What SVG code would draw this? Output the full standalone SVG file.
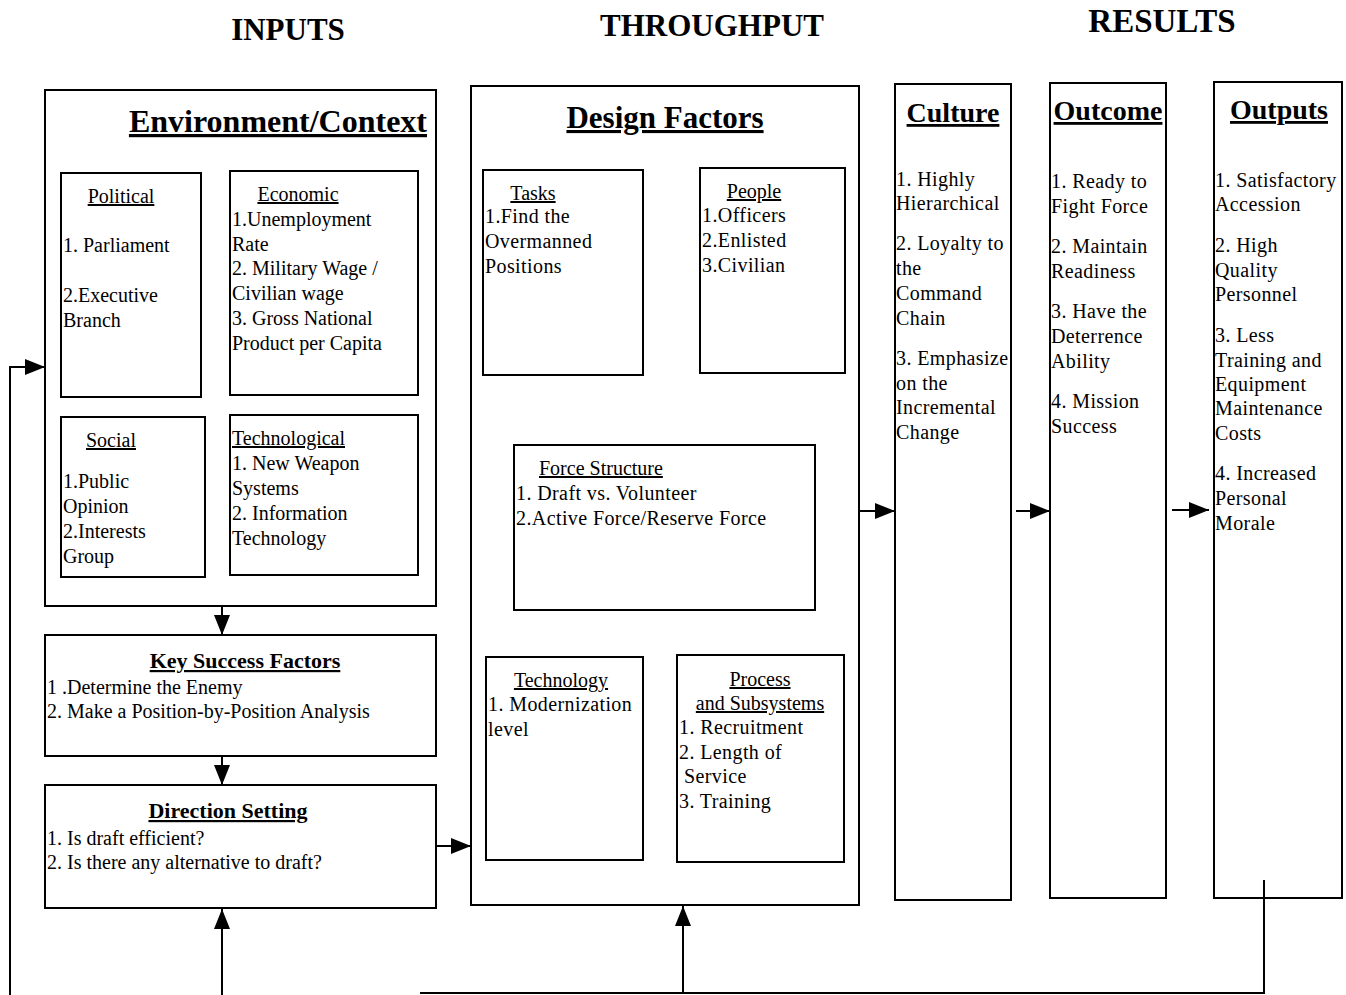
<svg xmlns="http://www.w3.org/2000/svg" width="1346" height="995" viewBox="0 0 1346 995">
<style>
text{font-family:"Liberation Serif","Times New Roman",serif;fill:#000}
.hd{font-size:31px;font-weight:bold}
.bt{font-size:31px;font-weight:bold;text-decoration:underline}
.ct{font-size:28px;font-weight:bold;text-decoration:underline}
.st{font-size:22px;font-weight:bold;text-decoration:underline}
.t{font-size:20px}
.u{font-size:20px;text-decoration:underline}
.r{font-size:20px;letter-spacing:0.4px}
rect{fill:#fff;stroke:#000;stroke-width:2}
.ln{stroke:#000;stroke-width:2;fill:none}
</style>
<defs>
<marker id="ah" markerWidth="20" markerHeight="16" refX="20" refY="8" orient="auto" markerUnits="userSpaceOnUse">
<path d="M0,0 L20,8 L0,16 Z" fill="#000"/>
</marker>
</defs>
<g id="headers">
<text class="hd" x="288" y="40" text-anchor="middle">INPUTS</text>
<text class="hd" x="712" y="36" text-anchor="middle">THROUGHPUT</text>
<text class="hd" x="1162" y="32" text-anchor="middle" style="font-size:33px">RESULTS</text>
</g>
<g id="env">
<rect x="45" y="90" width="391" height="516"/>
<text class="bt" x="427" y="132" text-anchor="end" style="font-size:32px">Environment/Context</text>
</g>
<g id="political">
<rect x="61" y="173" width="140" height="224"/>
<text class="u" x="121" y="203" text-anchor="middle">Political</text>
<text class="t" x="63" y="252">1. Parliament</text>
<text class="t" x="63" y="302">2.Executive</text>
<text class="t" x="63" y="327">Branch</text>
</g>
<g id="economic">
<rect x="230" y="171" width="188" height="224"/>
<text class="u" x="298" y="201" text-anchor="middle">Economic</text>
<text class="t" x="232" y="226">1.Unemployment</text>
<text class="t" x="232" y="251">Rate</text>
<text class="t" x="232" y="275">2. Military Wage /</text>
<text class="t" x="232" y="300">Civilian wage</text>
<text class="t" x="232" y="325">3. Gross National</text>
<text class="t" x="232" y="350">Product per Capita</text>
</g>
<g id="social">
<rect x="61" y="417" width="144" height="160"/>
<text class="u" x="86" y="447">Social</text>
<text class="t" x="63" y="488">1.Public</text>
<text class="t" x="63" y="513">Opinion</text>
<text class="t" x="63" y="538">2.Interests</text>
<text class="t" x="63" y="563">Group</text>
</g>
<g id="technological">
<rect x="230" y="415" width="188" height="160"/>
<text class="u" x="232" y="445">Technological</text>
<text class="t" x="232" y="470">1. New Weapon</text>
<text class="t" x="232" y="495">Systems</text>
<text class="t" x="232" y="520">2. Information</text>
<text class="t" x="232" y="545">Technology</text>
</g>
<g id="ksf">
<rect x="45" y="635" width="391" height="121"/>
<text class="st" x="245" y="668" text-anchor="middle">Key Success Factors</text>
<text class="t" x="47" y="694">1 .Determine the Enemy</text>
<text class="t" x="47" y="718">2. Make a Position-by-Position Analysis</text>
</g>
<g id="direction">
<rect x="45" y="785" width="391" height="123"/>
<text class="st" x="228" y="818" text-anchor="middle">Direction Setting</text>
<text class="t" x="47" y="845">1. Is draft efficient?</text>
<text class="t" x="47" y="869">2. Is there any alternative to draft?</text>
</g>
<g id="design">
<rect x="471" y="86" width="388" height="819"/>
<text class="bt" x="665" y="128" text-anchor="middle">Design Factors</text>
</g>
<g id="tasks">
<rect x="483" y="170" width="160" height="205"/>
<text class="u" x="533" y="200" text-anchor="middle">Tasks</text>
<text class="r" x="485" y="223">1.Find the</text>
<text class="r" x="485" y="248">Overmanned</text>
<text class="r" x="485" y="273">Positions</text>
</g>
<g id="people">
<rect x="700" y="168" width="145" height="205"/>
<text class="u" x="754" y="198" text-anchor="middle">People</text>
<text class="r" x="702" y="222">1.Officers</text>
<text class="r" x="702" y="247">2.Enlisted</text>
<text class="r" x="702" y="272">3.Civilian</text>
</g>
<g id="force">
<rect x="514" y="445" width="301" height="165"/>
<text class="u" x="539" y="475">Force Structure</text>
<text class="r" x="516" y="500">1. Draft vs. Volunteer</text>
<text class="r" x="516" y="525">2.Active Force/Reserve Force</text>
</g>
<g id="technology">
<rect x="486" y="657" width="157" height="203"/>
<text class="u" x="561" y="687" text-anchor="middle">Technology</text>
<text class="r" x="488" y="711">1. Modernization</text>
<text class="r" x="488" y="736">level</text>
</g>
<g id="process">
<rect x="677" y="655" width="167" height="207"/>
<text class="u" x="760" y="686" text-anchor="middle">Process</text>
<text class="u" x="760" y="710" text-anchor="middle">and Subsystems</text>
<text class="r" x="679" y="734">1. Recruitment</text>
<text class="r" x="679" y="759">2. Length of</text>
<text class="r" x="684" y="783">Service</text>
<text class="r" x="679" y="808">3. Training</text>
</g>
<g id="culture">
<rect x="895" y="84" width="116" height="816"/>
<text class="ct" x="953" y="122" text-anchor="middle">Culture</text>
<text class="r" x="896" y="186">1. Highly</text>
<text class="r" x="896" y="210">Hierarchical</text>
<text class="r" x="896" y="250">2. Loyalty to</text>
<text class="r" x="896" y="275">the</text>
<text class="r" x="896" y="300">Command</text>
<text class="r" x="896" y="325">Chain</text>
<text class="r" x="896" y="365">3. Emphasize</text>
<text class="r" x="896" y="390">on the</text>
<text class="r" x="896" y="414">Incremental</text>
<text class="r" x="896" y="439">Change</text>
</g>
<g id="outcome">
<rect x="1050" y="83" width="116" height="815"/>
<text class="ct" x="1108" y="120" text-anchor="middle">Outcome</text>
<text class="r" x="1051" y="188">1. Ready to</text>
<text class="r" x="1051" y="213">Fight Force</text>
<text class="r" x="1051" y="253">2. Maintain</text>
<text class="r" x="1051" y="278">Readiness</text>
<text class="r" x="1051" y="318">3. Have the</text>
<text class="r" x="1051" y="343">Deterrence</text>
<text class="r" x="1051" y="368">Ability</text>
<text class="r" x="1051" y="408">4. Mission</text>
<text class="r" x="1051" y="433">Success</text>
</g>
<g id="outputs">
<rect x="1214" y="82" width="128" height="816"/>
<text class="ct" x="1279" y="119" text-anchor="middle">Outputs</text>
<text class="r" x="1215" y="187">1. Satisfactory</text>
<text class="r" x="1215" y="211">Accession</text>
<text class="r" x="1215" y="252">2. High</text>
<text class="r" x="1215" y="277">Quality</text>
<text class="r" x="1215" y="301">Personnel</text>
<text class="r" x="1215" y="342">3. Less</text>
<text class="r" x="1215" y="367">Training and</text>
<text class="r" x="1215" y="391">Equipment</text>
<text class="r" x="1215" y="415">Maintenance</text>
<text class="r" x="1215" y="440">Costs</text>
<text class="r" x="1215" y="480">4. Increased</text>
<text class="r" x="1215" y="505">Personal</text>
<text class="r" x="1215" y="530">Morale</text>
</g>
<g id="connectors">
<line class="ln" x1="222" y1="606" x2="222" y2="635" marker-end="url(#ah)"/>
<line class="ln" x1="222" y1="756" x2="222" y2="785" marker-end="url(#ah)"/>
<line class="ln" x1="436" y1="846" x2="471" y2="846" marker-end="url(#ah)"/>
<line class="ln" x1="859" y1="511" x2="895" y2="511" marker-end="url(#ah)"/>
<line class="ln" x1="1016" y1="511" x2="1050" y2="511" marker-end="url(#ah)"/>
<line class="ln" x1="1172" y1="510" x2="1209" y2="510" marker-end="url(#ah)"/>
<polyline class="ln" points="10,995 10,367 45,367" marker-end="url(#ah)"/>
<line class="ln" x1="222" y1="995" x2="222" y2="909" marker-end="url(#ah)"/>
<line class="ln" x1="683" y1="993" x2="683" y2="906" marker-end="url(#ah)"/>
<polyline class="ln" points="420,993 1264,993 1264,880"/>
</g>
</svg>
